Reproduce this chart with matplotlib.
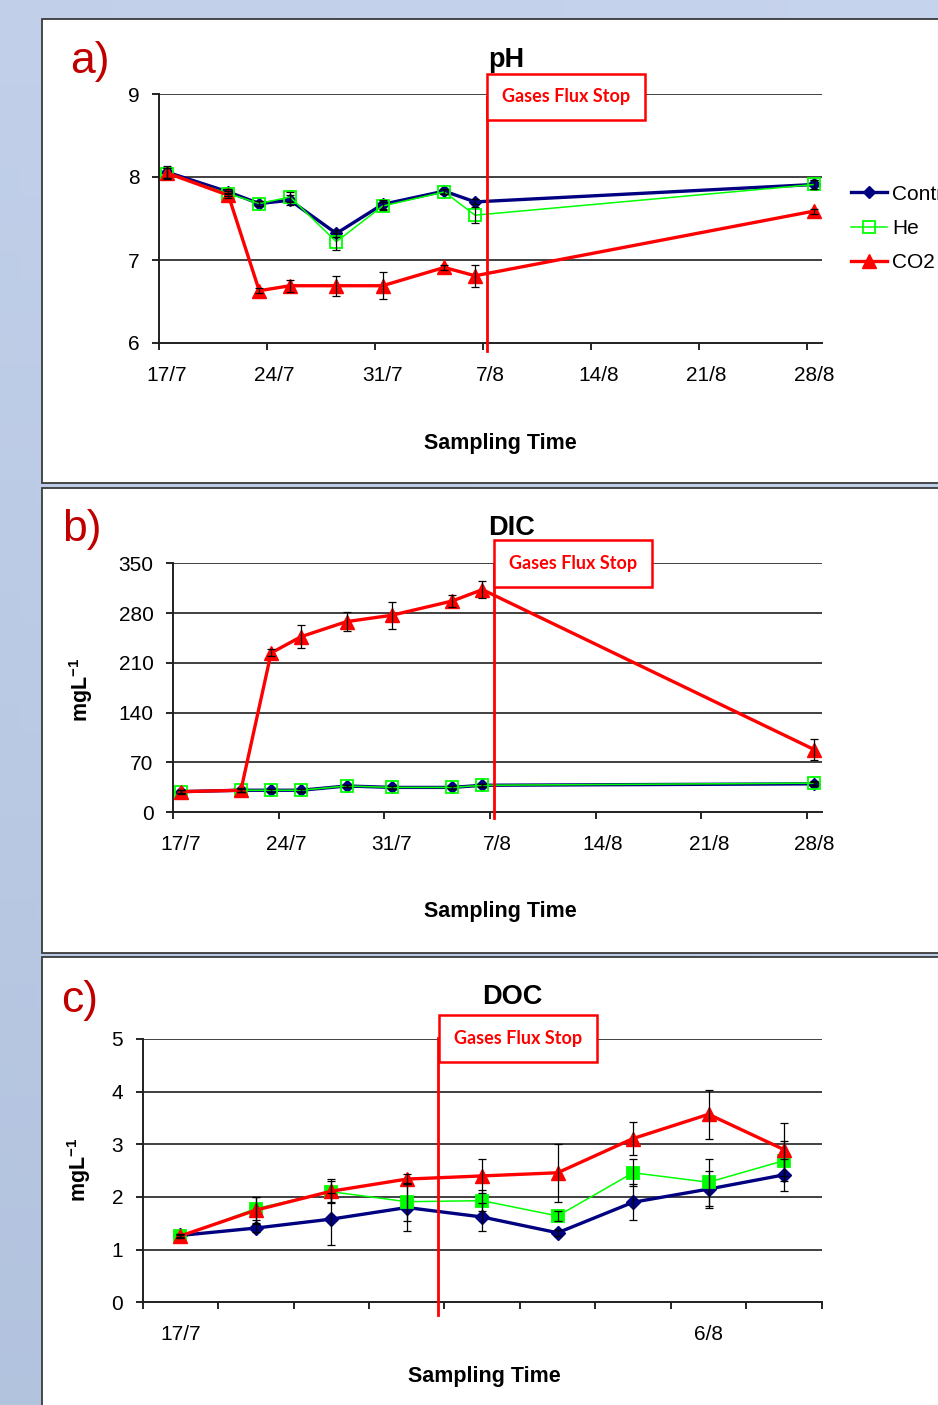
import matplotlib
matplotlib.use('Agg')
import matplotlib.pyplot as plt
import matplotlib.transforms as mtransforms
from matplotlib.patches import Rectangle
import numpy as np

plt.rcParams['font.family'] = ['Liberation Sans', 'DejaVu Sans']
plt.rcParams['mathtext.fontset'] = 'custom'
plt.rcParams['mathtext.rm'] = 'Liberation Sans'
plt.rcParams['mathtext.bf'] = 'Liberation Sans:bold'

W, H = 938, 1405

# ---- data ----
dates = ['17/7', '21/7', '23/7', '25/7', '28/7', '31/7', '4/8', '6/8', '28/8']
labels = ['Control', 'He', 'CO2']
date_ticks = ['17/7', '24/7', '31/7', '7/8', '14/8', '21/8', '28/8']
flux_stop_date = '7/8'

ph_control = [8.06, 7.82, 7.68, 7.72, 7.32, 7.67, 7.83, 7.70, 7.91]
ph_he = [8.04, 7.80, 7.68, 7.76, 7.22, 7.65, 7.82, 7.54, 7.91]
ph_co2 = [8.05, 7.78, 6.63, 6.69, 6.69, 6.69, 6.91, 6.81, 7.59]
ph_control_err = [0.07, 0.03, 0.03, 0.06, 0.04, 0.05, 0.03, 0.03, 0.05]
ph_he_err = [0.07, 0.03, 0.03, 0.06, 0.10, 0.05, 0.03, 0.10, 0.05]
ph_co2_err = [0.06, 0.03, 0.03, 0.07, 0.12, 0.16, 0.03, 0.13, 0.03]

dic_control = [29, 31, 31, 31, 37, 35, 35, 38, 40]
dic_he = [29, 31, 31, 31, 37, 35, 35, 38, 41]
dic_co2 = [29, 31, 224, 247, 268, 277, 297, 313, 88]
dic_control_err = [2, 2, 2, 2, 2, 2, 2, 2, 3]
dic_he_err = [2, 2, 2, 2, 2, 2, 2, 2, 3]
dic_co2_err = [3, 3, 5, 16, 13, 19, 8, 12, 15]

doc_control = [1.27, 1.41, 1.58, 1.80, 1.62, 1.32, 1.90, 2.15, 2.42]
doc_he = [1.25, 1.78, 2.10, 1.91, 1.93, 1.64, 2.46, 2.28, 2.69]
doc_co2 = [1.26, 1.75, 2.11, 2.34, 2.40, 2.46, 3.11, 3.57, 2.90]
doc_control_err = [0.03, 0.08, 0.50, 0.45, 0.27, 0.06, 0.34, 0.35, 0.30]
doc_he_err = [0.03, 0.22, 0.20, 0.36, 0.20, 0.10, 0.26, 0.45, 0.38]
doc_co2_err = [0.03, 0.25, 0.23, 0.10, 0.33, 0.55, 0.31, 0.46, 0.50]


def day(s):
    d, m = s.split('/')
    return int(d) - 17 if m == '7' else int(d) + 14


def fx(x):
    return x / W


def fy(y):
    return 1 - y / H


fig = plt.figure(figsize=(W / 100, H / 100), dpi=100)

# background gradient
bg = fig.add_axes([0, 0, 1, 1])
bg.set_zorder(-5)
gx, gy = np.meshgrid(np.linspace(0, 1, 50), np.linspace(0, 1, 50))
top = np.array([0.78, 0.83, 0.93])
bot = np.array([0.68, 0.75, 0.86])
img = top[None, None, :] * (1 - 0.6 * gy[..., None] - 0.2 * (1 - gx[..., None])) \
    + bot[None, None, :] * (0.6 * gy[..., None] + 0.2 * (1 - gx[..., None]))
bg.imshow(img, aspect='auto', extent=[0, 1, 0, 1])
bg.axis('off')

# panel frames
for y0, y1 in [(19, 483), (488, 953), (957, 1420)]:
    fig.add_artist(Rectangle((fx(42), fy(y1)), fx(960) - fx(42), fy(y0) - fy(y1),
                             transform=fig.transFigure, facecolor='white',
                             edgecolor='#3a3a3a', lw=1.3, zorder=-1))


def style_axes(ax, ylim, yticks):
    ax.set_facecolor('none')
    ax.set_ylim(*ylim)
    ax.set_yticks(yticks)
    for t in yticks[1:]:
        ax.axhline(t, color='#404040', lw=1.4, zorder=1)
    for s in ['top', 'right']:
        ax.spines[s].set_visible(False)
    for s in ['left', 'bottom']:
        ax.spines[s].set_linewidth(1.4)
        ax.spines[s].set_color('#202020')
    ax.tick_params(axis='y', direction='out', length=5, width=1.2, pad=9, labelsize=15)
    ax.tick_params(axis='x', which='major', direction='out', length=5, width=1.2, labelsize=15)
    ax.tick_params(axis='x', which='minor', length=0, pad=16.5, labelsize=15)


def plot_series(ax, x, data, errs, he_filled, ms_scale=1.0):
    ctrl, he, co2 = data
    ax.plot(x, ctrl, color='#000080', lw=2.4, marker='D', ms=6.5 * ms_scale, zorder=3, label=labels[0])
    ax.plot(x, he, color='#00ff00', lw=1.1, marker='s', ms=8.5 * ms_scale,
            mfc='#00ff00' if he_filled else 'none', mec='#00ff00', mew=1.3, zorder=3, label=labels[1])
    ax.plot(x, co2, color='#ff0000', lw=2.4, marker='^', ms=9.5 * ms_scale, zorder=3, label=labels[2])
    for yv, ev in zip(data, errs):
        ax.errorbar(x, yv, yerr=ev, fmt='none', ecolor='black', elinewidth=0.9,
                    capsize=3, capthick=0.9, zorder=4)


def flux_stop(ax, xpos, ylo, yc):
    trans = mtransforms.blended_transform_factory(ax.transData, ax.transAxes)
    ax.plot([xpos, xpos], [ylo, yc], color='#ff0000', lw=2, transform=trans, clip_on=False, zorder=5)
    ax.annotate('Gases Flux Stop', xy=(xpos, yc), xycoords=trans, xytext=(11.0, 0),
                textcoords='offset points', ha='left', va='center', fontsize=13,
                fontweight='bold', family=['Lato', 'DejaVu Sans'], color='#ff0000',
                bbox=dict(boxstyle='square,pad=0.82', fc='white', ec='#ff0000', lw=1.8),
                zorder=6, annotation_clip=False)


tick_days = [day(d) for d in date_ticks]
x_days = np.array([day(d) for d in dates]) + 0.5
stop_day = day(flux_stop_date) + 0.25

# ---- a) pH ----
ax_a = fig.add_axes([fx(159), fy(343), 663 / W, 249 / H])
style_axes(ax_a, (6, 9), [6, 7, 8, 9])
ax_a.set_xlim(0, 43)
ax_a.set_xticks(tick_days, [''] * len(tick_days))
ax_a.set_xticks(np.array(tick_days) + 0.5, date_ticks, minor=True)
plot_series(ax_a, x_days, [ph_control, ph_he, ph_co2],
            [ph_control_err, ph_he_err, ph_co2_err], False)
flux_stop(ax_a, stop_day, -0.032, 0.988)
ax_a.legend(loc='upper left', bbox_to_anchor=(1.044, 0.636), frameon=False, fontsize=15,
            handlelength=1.7, handletextpad=0.25, labelspacing=0.73, borderpad=0, borderaxespad=0)

# ---- b) DIC ----
ax_b = fig.add_axes([fx(173), fy(812.3), 649 / W, 249 / H])
style_axes(ax_b, (0, 350), [0, 70, 140, 210, 280, 350])
ax_b.set_xlim(0, 43)
ax_b.set_xticks(tick_days, [''] * len(tick_days))
ax_b.set_xticks(np.array(tick_days) + 0.5, date_ticks, minor=True)
plot_series(ax_b, x_days, [dic_control, dic_he, dic_co2],
            [dic_control_err, dic_he_err, dic_co2_err], False)
flux_stop(ax_b, stop_day, -0.023, 0.999)

# ---- c) DOC ----
ax_c = fig.add_axes([fx(142.7), fy(1302.3), 679 / W, 263.3 / H])
style_axes(ax_c, (0, 5), [0, 1, 2, 3, 4, 5])
n = len(dates)
ax_c.set_xlim(0, n)
ax_c.set_xticks(np.arange(n + 1), [''] * (n + 1))
cat_labels = [d if i % 7 == 0 else '' for i, d in enumerate(dates)]
ax_c.set_xticks(np.arange(n) + 0.5, cat_labels, minor=True)
x_cat = np.arange(n) + 0.5
plot_series(ax_c, x_cat, [doc_control, doc_he, doc_co2],
            [doc_control_err, doc_he_err, doc_co2_err], True, ms_scale=1.1)
flux_stop(ax_c, 3.92, -0.048, 1.003)

# ---- texts ----
for letter, lx, ly in [('a)', 70, 73), ('b)', 62, 541), ('c)', 61, 1012)]:
    fig.text(fx(lx), fy(ly), letter, color='#c00000', fontsize=32, va='baseline')
for title, tx, ty in [('pH', 488, 67), ('DIC', 488, 535), ('DOC', 482, 1004)]:
    fig.text(fx(tx), fy(ty), title, fontsize=19.5, fontweight='bold', va='baseline')
for sx, sy in [(424, 449), (424, 917), (408, 1382)]:
    fig.text(fx(sx), fy(sy), 'Sampling Time', fontsize=15.5, fontweight='bold', va='baseline')
for mx, my in [(81, 690), (79, 1170)]:
    fig.text(fx(mx), fy(my), r'mgL$^{\mathbf{-1}}$', rotation=90, fontsize=15.5,
             fontweight='bold', ha='center', va='center')

fig.savefig('out.png', dpi=100)
